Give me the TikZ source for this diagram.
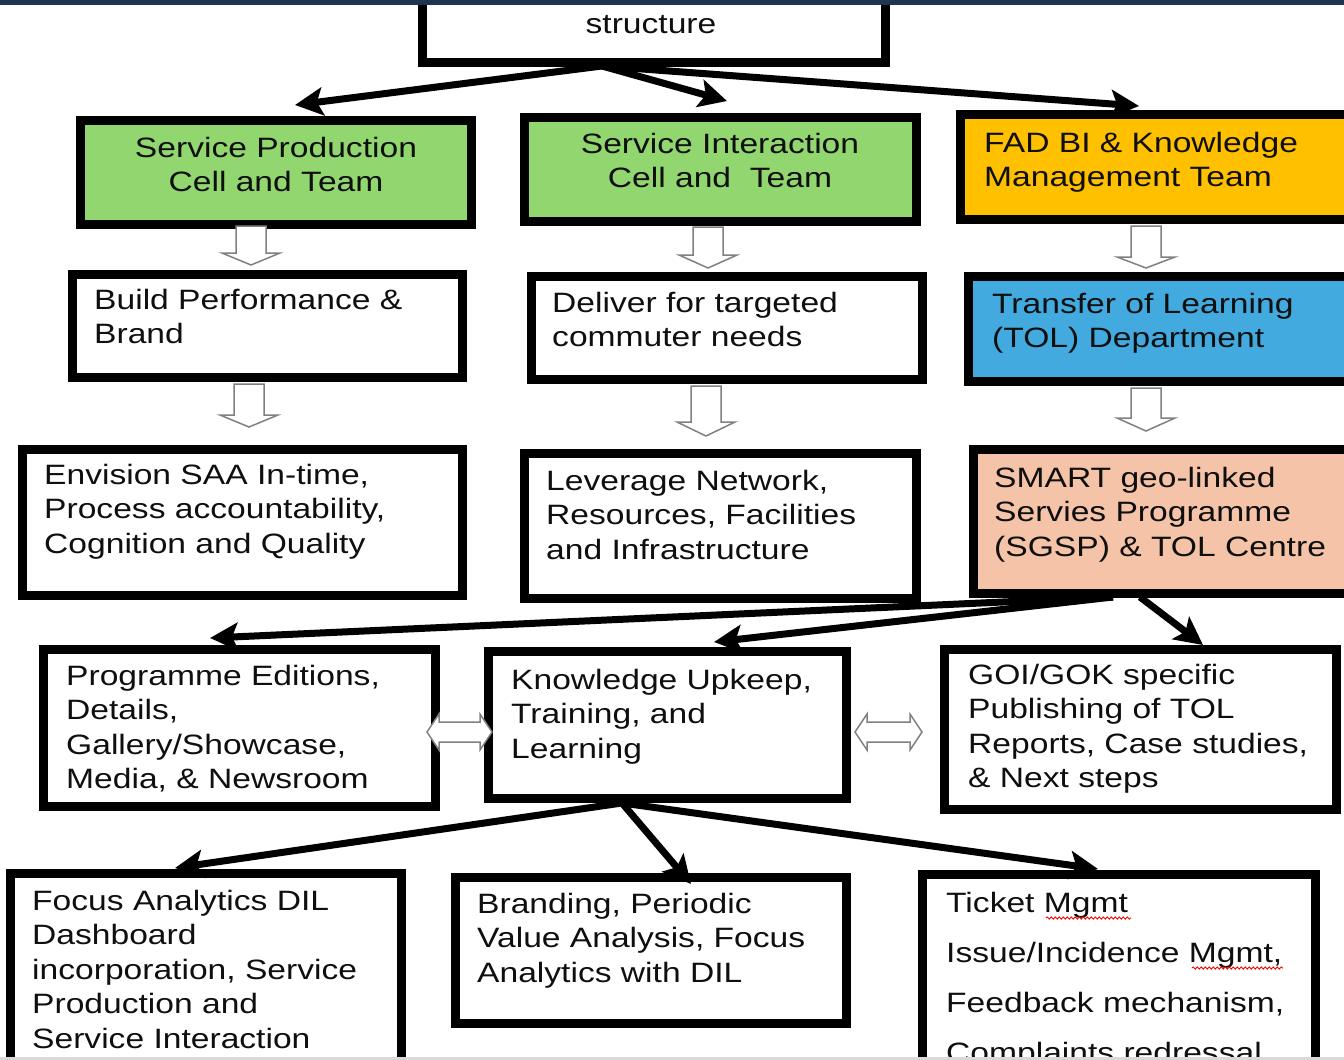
\documentclass[tikz,border=0pt]{standalone}
\usepackage{fontspec}
\setmainfont{Liberation Sans}[FakeStretch=1.2]
\usetikzlibrary{arrows.meta,fit,decorations.pathmorphing}
\definecolor{cgreen}{RGB}{146,214,112}
\definecolor{corange}{RGB}{255,192,0}
\definecolor{cblue}{RGB}{66,170,222}
\definecolor{cpeach}{RGB}{244,195,168}
\definecolor{cbar}{RGB}{31,52,80}
\definecolor{cgreyline}{RGB}{128,128,128}
\definecolor{ctext}{RGB}{15,15,15}
\newcommand\firstln{\rule{0pt}{20.5pt}}
\newcommand\hdown[4]{%
  \draw[hollow] ({#1-15},#2) -- ({#1+15},#2) -- ({#1+15},#3) -- ({#1+29},#3) -- (#1,#4) -- ({#1-29},#3) -- ({#1-15},#3) -- cycle;}
\newcommand\hdouble[3]{%
  \draw[hollow] (#1,#3) -- ({#1+12},{#3-18}) -- ({#1+12},{#3-10}) -- ({#2-12},{#3-10}) -- ({#2-12},{#3-18}) -- (#2,#3) -- ({#2-12},{#3+18}) -- ({#2-12},{#3+10}) -- ({#1+12},{#3+10}) -- ({#1+12},{#3+18}) -- cycle;}
\begin{document}
\begin{tikzpicture}[x=1pt,y=-1pt,
  box/.style={draw=black, line width=9pt, inner sep=0pt, fill=white},
  txt/.style={anchor=north west, inner sep=0pt, align=left, text=ctext, font=\fontsize{28}{34.5}\selectfont},
  ctxt/.style={anchor=north, inner sep=0pt, align=center, text=ctext, font=\fontsize{28}{34.5}\selectfont},
  link/.style={line width=7pt, draw=black, -{Stealth[length=28pt,width=28pt,inset=6pt]}},
  hollow/.style={draw=cgreyline, line width=1.5pt, fill=white, line join=miter},
  spell/.style={draw=red, line width=0.9pt, decorate, decoration={snake, segment length=4pt, amplitude=1.1pt}}
]
\useasboundingbox (0,0) rectangle (1344,1060);
\clip (0,0) rectangle (1344,1060);
\fill[white] (0,0) rectangle (1344,1060);

% ---- boxes (outer edge minus half line width)
\node[box, fit={(422.5,-20)(885.5,62.5)}] (top) {};
\node[box, fill=cgreen, fit={(80.5,120.5)(471.5,224.5)}] (sp) {};
\node[box, fill=cgreen, fit={(524.5,117.5)(916.5,221.5)}] (si) {};
\node[box, fill=corange, fit={(960.5,114.5)(1360,219.5)}] (fad) {};
\node[box, fit={(72.5,274.5)(462.5,377.5)}] (bp) {};
\node[box, fit={(531.5,276.5)(922.5,379.5)}] (dt) {};
\node[box, fill=cblue, fit={(968.5,276.5)(1360,381.5)}] (tol) {};
\node[box, fit={(22.5,449.5)(462.5,595.5)}] (env) {};
\node[box, fit={(524.5,453.5)(916.5,598.5)}] (lev) {};
\node[box, fill=cpeach, fit={(973.5,449.5)(1360,593.5)}] (smart) {};
\node[box, fit={(43.5,649.5)(435.5,806.5)}] (pe) {};
\node[box, fit={(488.5,651.5)(846.5,798.5)}] (ku) {};
\node[box, fit={(944.5,649.5)(1336.5,809.5)}] (goi) {};
\node[box, fit={(10.5,873.5)(401.5,1090)}] (fa) {};
\node[box, fit={(455.5,877.5)(846.5,1023.5)}] (br) {};
\node[box, fit={(922.5,874.5)(1315.5,1090)}] (tm) {};

% ---- texts
\node[ctxt] (top-t) at (651,12.5) {\firstln structure};
\node[ctxt] (sp-t) at (276,136.5) {\firstln Service Production\\Cell and Team};
\node[ctxt] (si-t) at (720,132.5) {\firstln Service Interaction\\Cell and\ \ Team};
\node[txt] (fad-t) at (984,131.5) {\firstln FAD BI \& Knowledge\\Management Team};
\node[txt] (bp-t) at (94,288.5) {\firstln Build Performance \&\\Brand};
\node[txt] (dt-t) at (552,291.5) {\firstln Deliver for targeted\\commuter needs};
\node[txt] (tol-t) at (992,292.5) {\firstln Transfer of Learning\\(TOL) Department};
\node[txt] (env-t) at (44,463.5) {\firstln Envision SAA In-time,\\Process accountability,\\Cognition and Quality};
\node[txt] (lev-t) at (546,469.5) {\firstln Leverage Network,\\Resources, Facilities\\and Infrastructure};
\node[txt] (smart-t) at (994,466.5) {\firstln SMART geo-linked\\Servies Programme\\(SGSP) \& TOL Centre};
\node[txt] (pe-t) at (66,664.5) {\firstln Programme Editions,\\Details,\\Gallery/Showcase,\\Media, \& Newsroom};
\node[txt] (ku-t) at (511,668.5) {\firstln Knowledge Upkeep,\\Training, and\\Learning};
\node[txt] (goi-t) at (968,663.5) {\firstln GOI/GOK specific\\Publishing of TOL\\Reports, Case studies,\\\& Next steps};
\node[txt] (fa-t) at (32,889.5) {\firstln Focus Analytics DIL\\Dashboard\\incorporation, Service\\Production and\\Service Interaction};
\node[txt] (br-t) at (477,892.5) {\firstln Branding, Periodic\\Value Analysis, Focus\\Analytics with DIL};
\node[txt, font=\fontsize{28}{50}\selectfont] (tm-t) at (946,891.5) {\firstln Ticket Mgmt\\Issue/Incidence Mgmt,\\Feedback mechanism,\\Complaints redressal};

% spell-check underlines
\draw[spell] (1046,918) -- (1131,918);
\draw[spell] (1192,968) -- (1283,968);

% ---- hollow block arrows
\hdown{251}{226}{253}{265}
\hdown{249}{384}{415}{427}
\hdown{708}{227}{255}{268}
\hdown{706}{386}{422}{436}
\hdown{1146}{226}{257}{268}
\hdown{1146}{388}{418}{431}
\hdouble{427}{492}{732}
\hdouble{855}{922}{732}

% ---- connectors
\coordinate (o1) at (602,66);
\coordinate (e-sp) at (295,105);
\coordinate (e-si) at (727,101);
\coordinate (e-fad) at (1139,106);
\draw[link] (o1) -- (e-sp);
\draw[link] (o1) -- (e-si);
\draw[link] (o1) -- (e-fad);

\coordinate (o2) at (1113,597);
\coordinate (o2b) at (1140,597);
\coordinate (e-pe) at (210,638);
\coordinate (e-ku) at (714,642);
\coordinate (e-goi) at (1203,645);
\draw[link] (o2) -- (e-pe);
\draw[link] (o2) -- (e-ku);
\draw[link] (o2b) -- (e-goi);

\coordinate (o3) at (622,803);
\coordinate (e-fa) at (175,868);
\coordinate (e-br) at (691,884);
\coordinate (e-tm) at (1098,869);
\draw[link] (o3) -- (e-fa);
\draw[link] (o3) -- (e-br);
\draw[link] (o3) -- (e-tm);

% ---- screen edges
\fill[cbar] (0,0) rectangle (1344,5);
\fill[black!15] (0,1057) rectangle (1344,1060);
\end{tikzpicture}
\end{document}
